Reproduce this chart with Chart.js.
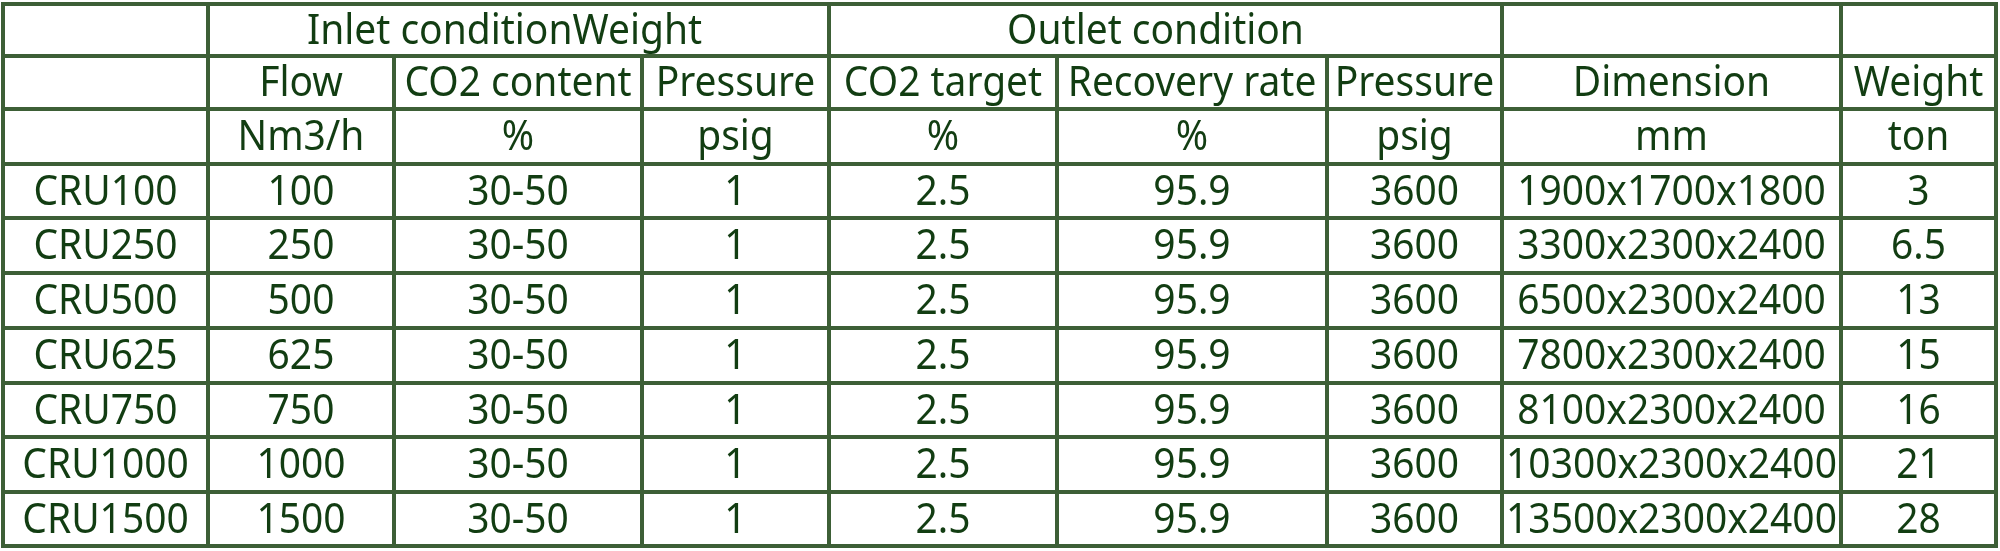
<!DOCTYPE html>
<html>
<head>
<meta charset="utf-8">
<title>CRU specification table</title>
<script src="https://cdn.jsdelivr.net/npm/chart.js@4.4.1/dist/chart.umd.min.js"></script>
<style>
    html, body { margin: 0; padding: 0; background: #ffffff; }
    #wrap { width: 2000px; height: 551px; position: relative; }
</style>
</head>
<body>
<div id="wrap"><canvas id="tableChart"></canvas></div>
<script>
// table contents
const groupHeaders = ['Inlet conditionWeight', 'Outlet condition'];
const columnHeaders = ['', 'Flow', 'CO2 content', 'Pressure', 'CO2 target', 'Recovery rate', 'Pressure', 'Dimension', 'Weight'];
const units = ['', 'Nm3/h', '%', 'psig', '%', '%', 'psig', 'mm', 'ton'];

const models = ['CRU100', 'CRU250', 'CRU500', 'CRU625', 'CRU750', 'CRU1000', 'CRU1500'];
const flow = [100, 250, 500, 625, 750, 1000, 1500];
const co2Content = ['30-50', '30-50', '30-50', '30-50', '30-50', '30-50', '30-50'];
const inletPressure = [1, 1, 1, 1, 1, 1, 1];
const co2Target = [2.5, 2.5, 2.5, 2.5, 2.5, 2.5, 2.5];
const recoveryRate = [95.9, 95.9, 95.9, 95.9, 95.9, 95.9, 95.9];
const outletPressure = [3600, 3600, 3600, 3600, 3600, 3600, 3600];
const dimensions = ['1900x1700x1800', '3300x2300x2400', '6500x2300x2400', '7800x2300x2400',
                    '8100x2300x2400', '10300x2300x2400', '13500x2300x2400'];
const weights = [3, 6.5, 13, 15, 16, 21, 28];

// layout (scale units)
const colWidths = [205, 186, 248, 187, 228, 270, 175, 339, 155];
const rowHeights = [52, 53, 55, 54, 55, 55, 55, 54, 55, 54];
const groupSpans = [[1, 4], [4, 7]];          // column index ranges for group headers
const groupShift = [-14, -10];                 // group titles sit a little left of centre
const fullHeightCols = [0, 1, 4, 7, 8, 9];      // vertical lines that also cross the first row

const lineColor = '#3d5f36';
const textColor = '#123d12';
const fontSize = 41;
const squeeze = 0.95;

function cumulative(arr) {
    const out = [0];
    arr.forEach(v => out.push(out[out.length - 1] + v));
    return out;
}
const colEdges = cumulative(colWidths);
const rowEdges = cumulative(rowHeights);
const colMid = i => (colEdges[i] + colEdges[i + 1]) / 2;
const rowMid = i => (rowEdges[i] + rowEdges[i + 1]) / 2;

// one dataset per column, each point is a cell
const dataColumns = [models, flow, co2Content, inletPressure, co2Target, recoveryRate, outletPressure, dimensions, weights];

const datasets = dataColumns.map((values, c) => {
    const texts = [columnHeaders[c], units[c]].concat(values.map(v => String(v)));
    return {
        label: columnHeaders[c] || 'Model',
        data: texts.map((t, r) => ({ x: colMid(c), y: rowMid(r + 1) })),
        cellText: texts,
        pointRadius: 0,
        showLine: false
    };
});

datasets.push({
    label: 'groups',
    data: groupSpans.map((s, i) => ({ x: (colEdges[s[0]] + colEdges[s[1]]) / 2 + groupShift[i], y: rowMid(0) })),
    cellText: groupHeaders,
    pointRadius: 0,
    showLine: false
});

const tablePlugin = {
    id: 'tablePlugin',
    afterDatasetsDraw(chart) {
        const ctx = chart.ctx;
        const x = chart.scales.x;
        const y = chart.scales.y;
        ctx.save();

        // grid
        ctx.strokeStyle = lineColor;
        ctx.lineWidth = 4;
        ctx.lineCap = 'square';
        ctx.beginPath();
        rowEdges.forEach(r => {
            ctx.moveTo(x.getPixelForValue(0), y.getPixelForValue(r));
            ctx.lineTo(x.getPixelForValue(colEdges[colEdges.length - 1]), y.getPixelForValue(r));
        });
        colEdges.forEach((c, i) => {
            const top = fullHeightCols.includes(i) ? rowEdges[0] : rowEdges[1];
            ctx.moveTo(x.getPixelForValue(c), y.getPixelForValue(top));
            ctx.lineTo(x.getPixelForValue(c), y.getPixelForValue(rowEdges[rowEdges.length - 1]));
        });
        ctx.stroke();

        // cell texts, slightly condensed like the original font
        ctx.fillStyle = textColor;
        ctx.font = fontSize + 'px "Noto Sans", sans-serif';
        ctx.textAlign = 'center';
        ctx.textBaseline = 'alphabetic';
        chart.data.datasets.forEach((ds, i) => {
            const meta = chart.getDatasetMeta(i);
            meta.data.forEach((pt, j) => {
                const t = ds.cellText[j];
                if (!t) return;
                ctx.save();
                ctx.translate(pt.x, pt.y + fontSize * 0.34);
                ctx.scale(squeeze, 1);
                ctx.fillText(t, 0, 0);
                ctx.restore();
            });
        });
        ctx.restore();
    }
};

new Chart(document.getElementById('tableChart'), {
    type: 'scatter',
    data: { datasets: datasets },
    options: {
        responsive: true,
        maintainAspectRatio: false,
        animation: false,
        layout: { padding: { left: 3, right: 4, top: 4, bottom: 5 } },
        plugins: {
            legend: { display: false },
            tooltip: { enabled: false }
        },
        scales: {
            x: { type: 'linear', min: 0, max: colEdges[colEdges.length - 1], display: false },
            y: { type: 'linear', min: 0, max: rowEdges[rowEdges.length - 1], reverse: true, display: false }
        }
    },
    plugins: [tablePlugin]
});
</script>
</body>
</html>
